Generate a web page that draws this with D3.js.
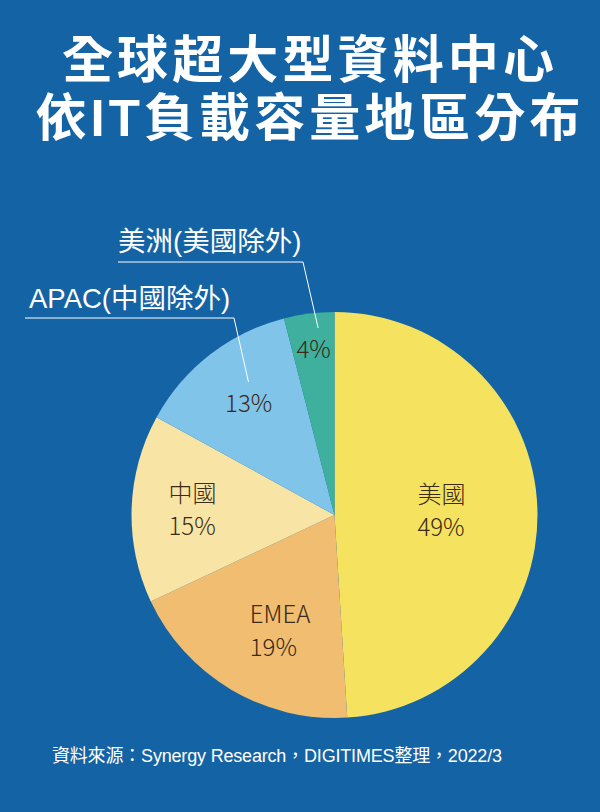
<!DOCTYPE html>
<html><head><meta charset="utf-8">
<script src="https://cdn.jsdelivr.net/npm/d3@7"></script>
<style>html,body{margin:0;padding:0;background:#1463a5;}svg{display:block;}</style>
</head><body>
<script>
const categories = ["美國", "EMEA", "中國", "APAC(中國除外)", "美洲(美國除外)"];
const values = [49, 19, 15, 13, 4];
const colors = ["#f5e25e", "#f0bd71", "#f8e5a5", "#80c4e9", "#3eb09d"];
const innerNames = ["美國", "EMEA", "中國", "", ""];
const titleLines = ["全球超大型資料中心", "依IT負載容量地區分布"];
const source = "資料來源：Synergy Research，DIGITIMES整理，2022/3";

const W = 600, H = 812;
const svg = d3.select("body").append("svg").attr("width", W).attr("height", H);
svg.append("rect").attr("width", W).attr("height", H).attr("fill", "#1463a5");

const cjk = "'Noto Sans CJK TC','Noto Sans CJK SC',sans-serif";
const latin = "'Liberation Sans','Noto Sans CJK TC',sans-serif";

// title
const titleLen = [492, 545];
svg.selectAll("text.title").data(titleLines).join("text")
  .attr("class", "title")
  .attr("x", 308).attr("y", (d, i) => 78 + i * 58)
  .attr("text-anchor", "middle")
  .attr("font-family", latin).attr("font-weight", 700)
  .attr("font-size", 51)
  .attr("textLength", (d, i) => titleLen[i]).attr("lengthAdjust", "spacing")
  .attr("fill", "#fff").text(d => d);

// pie
const cx = 334.5, cy = 515, R = 203;
const pie = d3.pie().sort(null).value(d => d);
const arcs = pie(values);
const arc = d3.arc().innerRadius(0).outerRadius(R);
const g = svg.append("g").attr("transform", `translate(${cx},${cy})`);
g.selectAll("path").data(arcs).join("path")
  .attr("d", arc).attr("fill", (d, i) => colors[i]);

// inner labels (left-aligned block centred at a polar point)
const labelR = [0.527, 0.635, 0.70, 0.69, 0.82];
const labelNudge = [0, -5.6, 0, 0, 0]; // degrees
arcs.forEach((a, i) => {
  const mid = (a.startAngle + a.endAngle) / 2 + labelNudge[i] * Math.PI / 180;
  const r = R * labelR[i];
  const x = Math.sin(mid) * r, y = -Math.cos(mid) * r;
  const lines = innerNames[i] ? [innerNames[i], values[i] + "%"] : [values[i] + "%"];
  const t = g.append("text").attr("text-anchor", "start")
    .attr("font-family", cjk).attr("font-weight", 300)
    .attr("font-size", 24).attr("fill", "#3a2a16");
  const spans = lines.map((ln, j) => t.append("tspan")
    .attr("y", y + (j - (lines.length - 1) / 2) * 33 + 8).text(ln));
  const widths = spans.map(s => s.node().getComputedTextLength());
  const maxW = Math.max(...widths);
  spans.forEach(s => s.attr("x", x - maxW / 2));
});

// leader labels
const leaders = [
  {i: 4, tx: 118, ty: 251, lineY: 262, x0: 118, x1: 303, er: 0.925, nudge: 2.2},
  {i: 3, tx: 29, ty: 308, lineY: 318, x0: 25, x1: 234, er: 0.78, nudge: 4.9}
];
leaders.forEach(l => {
  const a = arcs[l.i];
  const mid = (a.startAngle + a.endAngle) / 2 + l.nudge * Math.PI / 180;
  const ex = cx + Math.sin(mid) * R * l.er, ey = cy - Math.cos(mid) * R * l.er;
  svg.append("text").attr("x", l.tx).attr("y", l.ty)
    .attr("font-family", latin).attr("font-size", 27.5).attr("fill", "#fff").text(categories[l.i]);
  svg.append("polyline")
    .attr("points", `${l.x0},${l.lineY} ${l.x1},${l.lineY} ${ex},${ey}`)
    .attr("fill", "none").attr("stroke", "#fff").attr("stroke-width", 1);
});

svg.append("text").attr("x", 52).attr("y", 762)
  .attr("font-family", latin).attr("font-size", 18)
  .attr("textLength", 450).attr("lengthAdjust", "spacing")
  .attr("fill", "#fff").text(source);
</script>
</body></html>
